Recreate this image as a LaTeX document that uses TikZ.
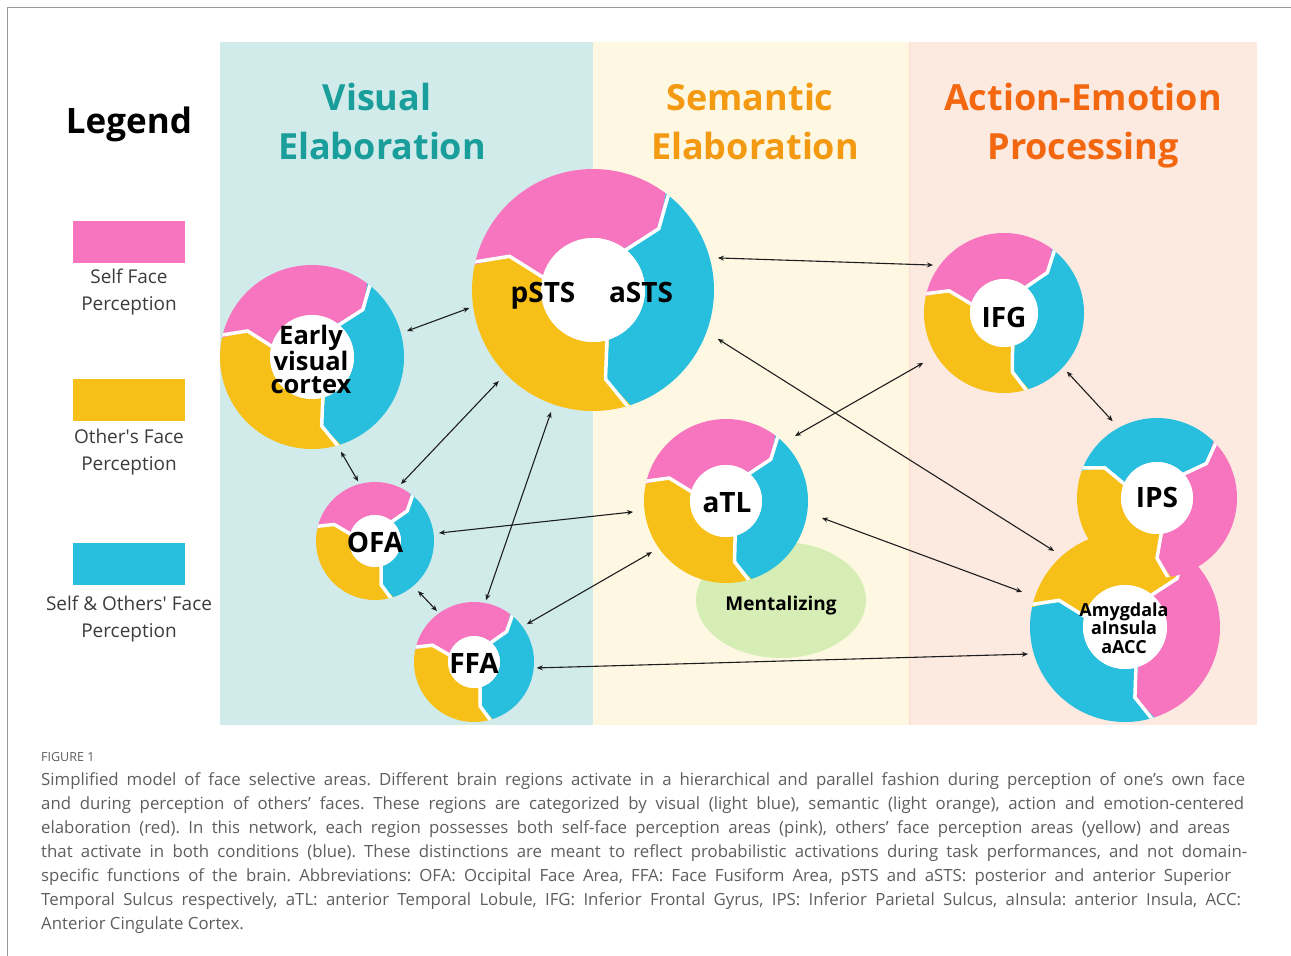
\documentclass[tikz,border=0pt]{standalone}
\usepackage{fontspec}
\setmainfont{Open Sans}
\usetikzlibrary{arrows.meta,shapes.geometric}
\frenchspacing
\definecolor{pinkc}{HTML}{F675BE}
\definecolor{bluec}{HTML}{27BFDD}
\definecolor{yelc}{HTML}{F6C018}
\definecolor{visbg}{HTML}{D1EBEB}
\definecolor{sembg}{HTML}{FEF8E3}
\definecolor{actbg}{HTML}{FCE9DF}
\definecolor{visc}{HTML}{1A9E9B}
\definecolor{semc}{HTML}{F39A12}
\definecolor{actc}{HTML}{F2670F}
\definecolor{mentc}{HTML}{D6EDB5}
\definecolor{arrowc}{HTML}{1E1E1E}
\definecolor{legc}{HTML}{3C3C3C}
\definecolor{capc}{HTML}{5E5E5E}
\definecolor{framec}{HTML}{9A9A9A}

% one coloured segment of a ring: cx cy R rin start end colour
\newcommand{\dseg}[7]{%
  \fill[#7] ({#1+#4*cos(#5)},{#2-#4*sin(#5)})
    -- ({#1+\dRm*cos(#5-10)},{#2-\dRm*sin(#5-10)})
    -- ({#1+#3*cos(#5)},{#2-#3*sin(#5)})
    -- plot[domain=#5:#6,samples=60] ({#1+#3*cos(\x)},{#2-#3*sin(\x)})
    -- ({#1+\dRm*cos(#6-10)},{#2-\dRm*sin(#6-10)})
    -- ({#1+#4*cos(#6)},{#2-#4*sin(#6)})
    -- plot[domain=#6:#5,samples=60] ({#1+#4*cos(\x)},{#2-#4*sin(\x)})
    -- cycle;}
% ring: cx cy R rin rotation colA colB colC
\newcommand{\donut}[8]{%
  \pgfmathsetmacro{\dRm}{0.55*#3+0.45*#4}%
  \pgfmathsetmacro{\bA}{168+(#5)}%
  \pgfmathsetmacro{\bB}{53+(#5)}%
  \pgfmathsetmacro{\bC}{-72+(#5)}%
  \pgfmathsetmacro{\bD}{-192+(#5)}%
  \dseg{#1}{#2}{#3}{#4}{\bA}{\bB}{#6}%
  \dseg{#1}{#2}{#3}{#4}{\bB}{\bC}{#7}%
  \dseg{#1}{#2}{#3}{#4}{\bC}{\bD}{#8}%
  \begin{scope}
    \clip (#1,#2) circle[radius=#3pt];
    \foreach \bb in {\bA,\bB,\bC}{%
      \draw[white, line width=3.5pt, line join=miter]
        ({#1+(#4-6)*cos(\bb)},{#2-(#4-6)*sin(\bb)})
        -- ({#1+\dRm*cos(\bb-10)},{#2-\dRm*sin(\bb-10)})
        -- ({#1+(#3+8)*cos(\bb)},{#2-(#3+8)*sin(\bb)});}
  \end{scope}}

\begin{document}
\begin{tikzpicture}[x=1pt,y=-1pt,
  ringnode/.style={circle, inner sep=0pt, outer sep=0pt},
  hole/.style={circle, fill=white, inner sep=0pt, outer sep=0pt},
  lab/.style={font=\bfseries\fontsize{28}{28}\selectfont, text=black, inner sep=0pt, anchor=base},
  conn/.style={{Stealth[length=6pt,width=5pt]}-{Stealth[length=6pt,width=5pt]}, line width=1.1pt, draw=arrowc},
  title/.style={font=\bfseries\fontsize{36}{36}\selectfont, inner sep=0pt, anchor=base},
  legtxt/.style={font=\fontsize{19}{26.5}\selectfont, text=legc, align=center, inner sep=0pt},
  capline/.style={anchor=base west, font=\fontsize{16.8}{24}\selectfont, text=capc, inner sep=0pt}]
\useasboundingbox (0,0) rectangle (1291,956);
\fill[white] (0,0) rectangle (1291,956);
\draw[framec, line width=1pt] (7,956) -- (7,7) -- (1291,7);

% panels
\fill[visbg] (220,42) rectangle (593,725);
\fill[sembg] (593,42) rectangle (909,725);
\fill[actbg] (909,42) rectangle (1257,725);
\draw[color=actbg!90!orange, line width=1.5pt] (909.5,42) -- (909.5,725);

% titles
\node[title, text=visc] (t1a) at (377,110) {Visual};
\node[title, text=visc] (t1b) at (382,159) {Elaboration};
\node[title, text=semc] (t2a) at (750,110) {Semantic};
\node[title, text=semc] (t2b) at (755,159) {Elaboration};
\node[title, text=actc] (t3a) at (1083,110) {Action-Emotion};
\node[title, text=actc] (t3b) at (1083,159) {Processing};

% legend
\node[font=\bfseries\fontsize{35}{35}\selectfont, anchor=base, inner sep=0pt] (legend) at (129,133) {Legend};
\fill[pinkc] (73,221) rectangle (185,263);
\fill[yelc] (73,379) rectangle (185,421);
\fill[bluec] (73,543) rectangle (185,585);
\node[legtxt] (lg1) at (129,292) {Self Face\\Perception};
\node[legtxt] (lg2) at (129,452) {Other\textquotesingle s Face\\Perception};
\node[legtxt] (lg3) at (129,619) {Self \& Others\textquotesingle\ Face\\Perception};

% mentalizing
\node[ellipse, fill=mentc, minimum width=170pt, minimum height=116pt, inner sep=0pt] (ment) at (781,600) {};
\node[font=\bfseries\fontsize{19}{19}\selectfont, anchor=base, inner sep=0pt] (mentl) at (781,610) {Mentalizing};

% rings
\donut{312}{357}{92}{42}{0}{pinkc}{bluec}{yelc}
\donut{593}{290}{121}{52}{0}{pinkc}{bluec}{yelc}
\donut{375}{541}{59}{26}{0}{pinkc}{bluec}{yelc}
\donut{474}{662}{60}{26}{0}{pinkc}{bluec}{yelc}
\donut{726}{501}{82}{36}{0}{pinkc}{bluec}{yelc}
\donut{1004}{313}{80}{34}{0}{pinkc}{bluec}{yelc}
\donut{1125}{627}{95}{42}{0}{yelc}{pinkc}{bluec}
\donut{1157}{498}{80}{36}{-8}{bluec}{pinkc}{yelc}

% named outlines of the rings
\node[ringnode, minimum size=184pt] (EVC) at (312,357) {};
\node[ringnode, minimum size=242pt] (pSTS) at (593,290) {};
\node[ringnode, minimum size=118pt] (OFA) at (375,541) {};
\node[ringnode, minimum size=120pt] (FFA) at (474,662) {};
\node[ringnode, minimum size=164pt] (aTL) at (726,501) {};
\node[ringnode, minimum size=160pt] (IFG) at (1004,313) {};
\node[ringnode, minimum size=190pt] (AMY) at (1125,627) {};
\node[ringnode, minimum size=160pt] (IPS) at (1157,498) {};

% white centres
\node[hole, minimum size=84pt] (hEVC) at (312,357) {};
\node[hole, minimum size=104pt] (hpSTS) at (593,290) {};
\node[hole, minimum size=52pt] (hOFA) at (375,541) {};
\node[hole, minimum size=52pt] (hFFA) at (474,662) {};
\node[hole, minimum size=72pt] (haTL) at (726,501) {};
\node[hole, minimum size=68pt] (hIFG) at (1004,313) {};
\node[hole, minimum size=84pt] (hAMY) at (1125,627) {};
\node[hole, minimum size=72pt] (hIPS) at (1157,498) {};

% labels
\node[font=\bfseries\fontsize{25.5}{22.5}\selectfont, align=center, inner sep=0pt] (lEVC) at (311,359) {Early\\visual\\cortex};
\node[lab] (lpSTS) at (543,302) {pSTS};
\node[lab] (laSTS) at (641,302) {aSTS};
\node[lab] (lOFA) at (375,552) {OFA};
\node[lab] (lFFA) at (474,673) {FFA};
\node[lab] (laTL) at (727,512) {aTL};
\node[lab] (lIFG) at (1004,327) {IFG};
\node[lab] (lIPS) at (1157,507) {IPS};
\node[font=\bfseries\fontsize{18}{18.5}\selectfont, align=center, inner sep=0pt] (lAMY) at (1124,628) {Amygdala\\aInsula\\aACC};

% connectors
\draw[conn] ([shift={(15.3:98.5pt)}]EVC.center) -- ([shift={(188.3:125pt)}]pSTS.center);
\draw[conn] ([shift={(-73:99pt)}]EVC.center) -- ([shift={(105.8:62pt)}]OFA.center);
\draw[conn] ([shift={(224:131pt)}]pSTS.center) -- ([shift={(65.5:62.6pt)}]OFA.center);
\draw[conn] ([shift={(251:129pt)}]pSTS.center) -- ([shift={(79:63pt)}]FFA.center);
\draw[conn] ([shift={(7.1:64.5pt)}]OFA.center) -- ([shift={(186.7:93.6pt)}]aTL.center);
\draw[conn] ([shift={(-49.3:66pt)}]OFA.center) -- ([shift={(126:63pt)}]FFA.center);
\draw[conn] ([shift={(35.6:65pt)}]FFA.center) -- ([shift={(214.6:90pt)}]aTL.center);
\draw[conn] ([shift={(-5.4:63pt)}]FFA.center) -- ([shift={(195.6:100.7pt)}]AMY.center);
\draw[conn] ([shift={(14.4:129pt)}]pSTS.center) -- ([shift={(146:85.7pt)}]IFG.center);
\draw[conn] ([shift={(-21.4:134pt)}]pSTS.center) -- ([shift={(133:104pt)}]AMY.center);
\draw[conn] ([shift={(43.3:94.8pt)}]aTL.center) -- ([shift={(211.7:95pt)}]IFG.center);
\draw[conn] ([shift={(-10:97.5pt)}]aTL.center) -- ([shift={(161.2:108.8pt)}]AMY.center);
\draw[conn] ([shift={(-43:86pt)}]IFG.center) -- ([shift={(120:88.7pt)}]IPS.center);

% caption
\node[anchor=base west, font=\fontsize{12.5}{12.5}\selectfont, text=capc, inner sep=0pt] (fig) at (41,761) {FIGURE 1};
\node[capline] (c1) at (41,785) {\makebox[1204pt][s]{Simplified model of face selective areas. Different brain regions activate in a hierarchical and parallel fashion during perception of one’s own face}};
\node[capline] (c2) at (41,809) {\makebox[1203pt][s]{and during perception of others’ faces. These regions are categorized by visual (light blue), semantic (light orange), action and emotion-centered}};
\node[capline] (c3) at (41,833) {\makebox[1189pt][s]{elaboration (red). In this network, each region possesses both self-face perception areas (pink), others’ face perception areas (yellow) and areas}};
\node[capline] (c4) at (41,857) {\makebox[1206pt][s]{that activate in both conditions (blue). These distinctions are meant to reflect probabilistic activations during task performances, and not domain-}};
\node[capline] (c5) at (41,881) {\makebox[1190pt][s]{specific functions of the brain. Abbreviations: OFA: Occipital Face Area, FFA: Face Fusiform Area, pSTS and aSTS: posterior and anterior Superior}};
\node[capline] (c6) at (41,905) {\makebox[1200pt][s]{Temporal Sulcus respectively, aTL: anterior Temporal Lobule, IFG: Inferior Frontal Gyrus, IPS: Inferior Parietal Sulcus, aInsula: anterior Insula, ACC:}};
\node[capline] (c7) at (41,929) {Anterior Cingulate Cortex.};
\end{tikzpicture}
\end{document}
